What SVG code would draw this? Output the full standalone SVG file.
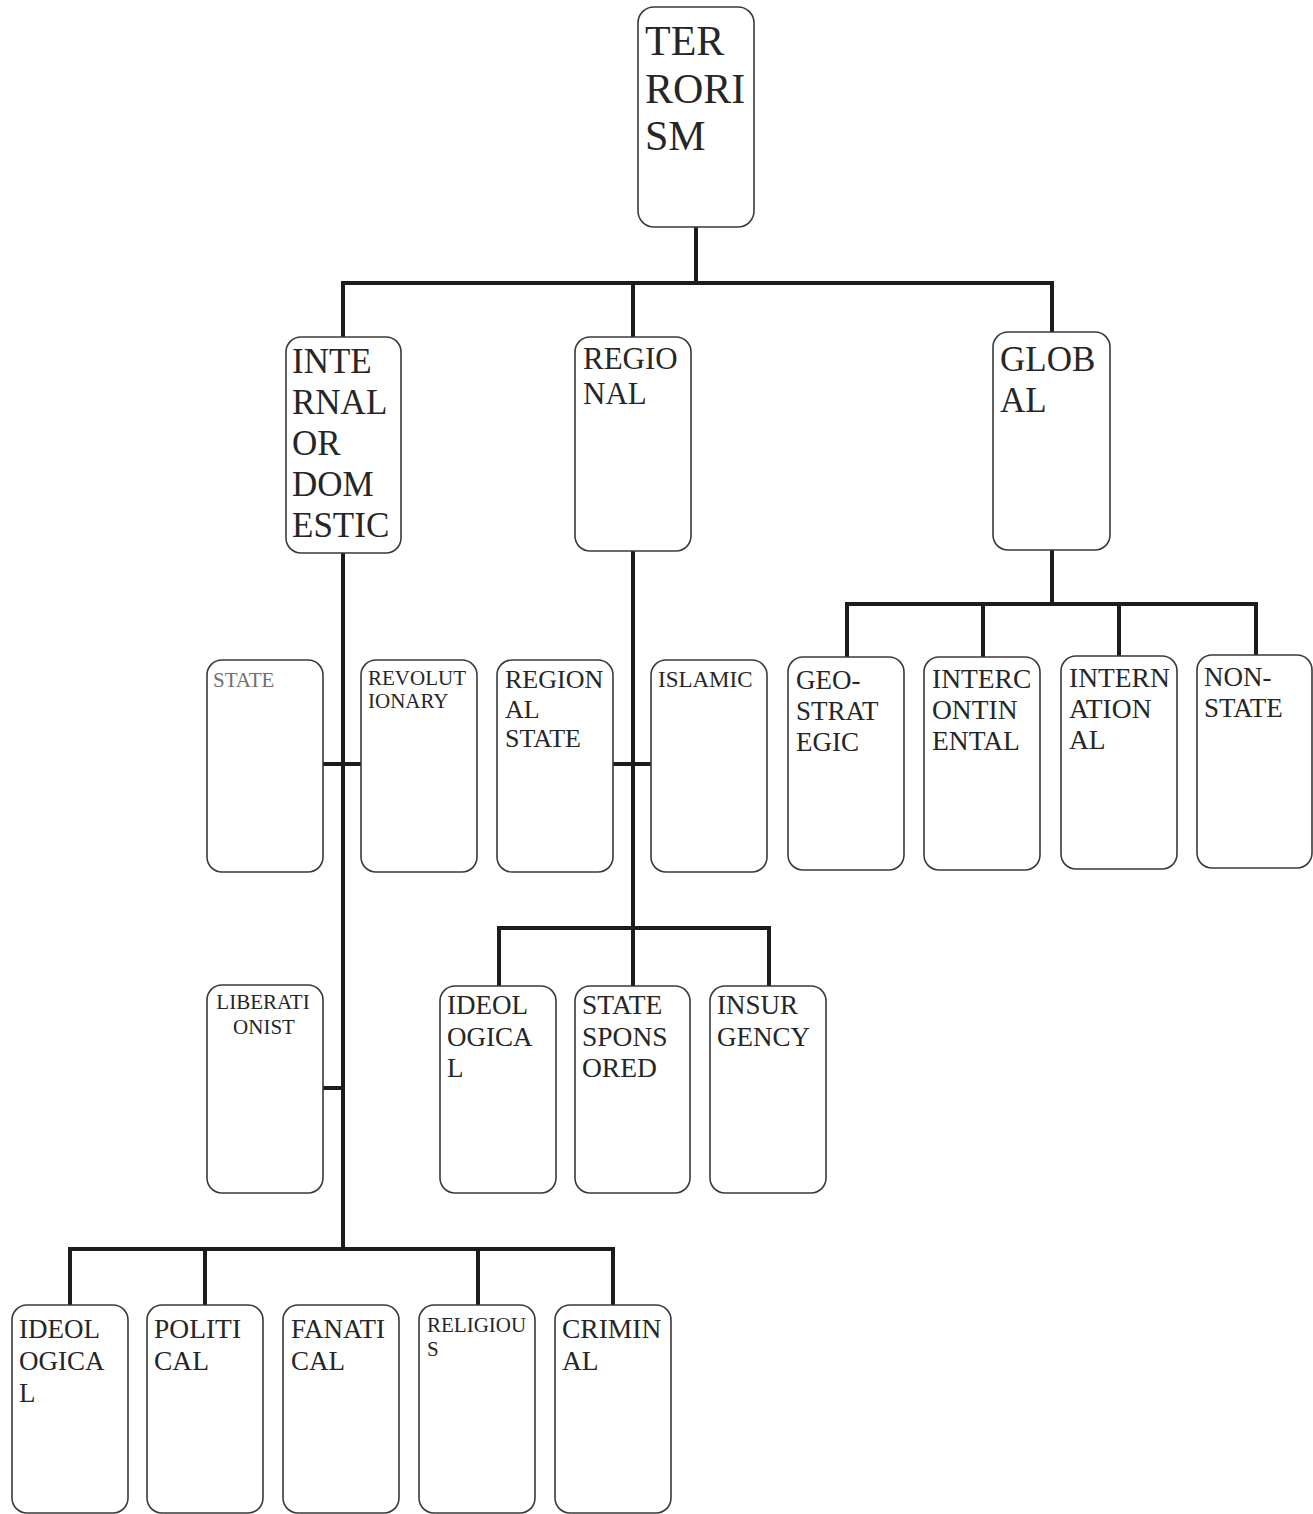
<svg xmlns="http://www.w3.org/2000/svg" width="1313" height="1514" viewBox="0 0 1313 1514">
<style>
.b{fill:#fff;stroke:#3a3a3a;stroke-width:1.6}
.t{font-family:'Liberation Serif','Times New Roman',Times,serif;fill:#262626}
.c{stroke:#1c1c1c;stroke-width:4;fill:none;stroke-linecap:square}
</style>
<rect width="1313" height="1514" fill="#fff"/>
<g id="connectors" class="c">
<path d="M696 227V283M343 283H1052M343 283V337M633 283V337M1052 283V332"/>
<path d="M343 553V1249M323 764H361M323 1088H343M70 1249H613M70 1249V1305M205 1249V1305M478 1249V1305M613 1249V1305"/>
<path d="M633 551V986M613 764H651M499 928H769M499 928V986M769 928V986"/>
<path d="M1052 550V604M847 604H1256M847 604V657M983 604V657M1119 604V656M1256 604V655"/>
</g>
<g font-family="Liberation Serif, Times New Roman, serif">
<g id="terrorism"><rect class="b" x="638" y="7" width="116" height="220" rx="16"/>
<text class="t" font-family="Liberation Serif, serif" font-size="42"><tspan x="645" y="55">TER</tspan><tspan x="645" y="103">RORI</tspan><tspan x="645" y="150">SM</tspan></text></g>
<g id="internal"><rect class="b" x="286" y="337" width="115" height="216" rx="15"/>
<text class="t" font-family="Liberation Serif, serif" font-size="35"><tspan x="292" y="373">INTE</tspan><tspan x="292" y="414">RNAL</tspan><tspan x="292" y="455">OR</tspan><tspan x="292" y="496">DOM</tspan><tspan x="292" y="537">ESTIC</tspan></text></g>
<g id="regional"><rect class="b" x="575" y="337" width="116" height="214" rx="15"/>
<text class="t" font-family="Liberation Serif, serif" font-size="31"><tspan x="583" y="369">REGIO</tspan><tspan x="583" y="404">NAL</tspan></text></g>
<g id="global"><rect class="b" x="993" y="332" width="117" height="218" rx="15"/>
<text class="t" font-family="Liberation Serif, serif" font-size="35"><tspan x="1000" y="371">GLOB</tspan><tspan x="1000" y="412">AL</tspan></text></g>
<g id="state"><rect class="b" x="207" y="660" width="116" height="212" rx="15"/>
<text class="t" font-family="Liberation Serif, serif" font-size="21" style="fill:#707070"><tspan x="213" y="687">STATE</tspan></text></g>
<g id="revolutionary"><rect class="b" x="361" y="660" width="116" height="212" rx="15"/>
<text class="t" font-family="Liberation Serif, serif" font-size="21"><tspan x="368" y="685">REVOLUT</tspan><tspan x="368" y="708">IONARY</tspan></text></g>
<g id="regional-state"><rect class="b" x="497" y="660" width="116" height="212" rx="15"/>
<text class="t" font-family="Liberation Serif, serif" font-size="26"><tspan x="505" y="688">REGION</tspan><tspan x="505" y="718">AL</tspan><tspan x="505" y="747">STATE</tspan></text></g>
<g id="islamic"><rect class="b" x="651" y="660" width="116" height="212" rx="15"/>
<text class="t" font-family="Liberation Serif, serif" font-size="23"><tspan x="658" y="687">ISLAMIC</tspan></text></g>
<g id="geostrategic"><rect class="b" x="788" y="657" width="116" height="213" rx="15"/>
<text class="t" font-family="Liberation Serif, serif" font-size="27"><tspan x="796" y="689">GEO-</tspan><tspan x="796" y="720">STRAT</tspan><tspan x="796" y="751">EGIC</tspan></text></g>
<g id="intercontinental"><rect class="b" x="924" y="657" width="116" height="213" rx="15"/>
<text class="t" font-family="Liberation Serif, serif" font-size="27.5"><tspan x="932" y="688">INTERC</tspan><tspan x="932" y="719">ONTIN</tspan><tspan x="932" y="750">ENTAL</tspan></text></g>
<g id="international"><rect class="b" x="1061" y="656" width="116" height="213" rx="15"/>
<text class="t" font-family="Liberation Serif, serif" font-size="27.5"><tspan x="1069" y="687">INTERN</tspan><tspan x="1069" y="718">ATION</tspan><tspan x="1069" y="749">AL</tspan></text></g>
<g id="non-state"><rect class="b" x="1197" y="655" width="115" height="213" rx="15"/>
<text class="t" font-family="Liberation Serif, serif" font-size="27"><tspan x="1204" y="686">NON-</tspan><tspan x="1204" y="717">STATE</tspan></text></g>
<g id="liberationist"><rect class="b" x="207" y="985" width="116" height="208" rx="15"/>
<text class="t" font-family="Liberation Serif, serif" font-size="21" text-anchor="middle"><tspan x="263" y="1009">LIBERATI</tspan><tspan x="264" y="1034">ONIST</tspan></text></g>
<g id="ideological-regional"><rect class="b" x="440" y="986" width="116" height="207" rx="15"/>
<text class="t" font-family="Liberation Serif, serif" font-size="27"><tspan x="447" y="1014">IDEOL</tspan><tspan x="447" y="1046">OGICA</tspan><tspan x="447" y="1077">L</tspan></text></g>
<g id="state-sponsored"><rect class="b" x="575" y="986" width="115" height="207" rx="15"/>
<text class="t" font-family="Liberation Serif, serif" font-size="27.5"><tspan x="582" y="1014">STATE</tspan><tspan x="582" y="1046">SPONS</tspan><tspan x="582" y="1077">ORED</tspan></text></g>
<g id="insurgency"><rect class="b" x="710" y="986" width="116" height="207" rx="15"/>
<text class="t" font-family="Liberation Serif, serif" font-size="27"><tspan x="717" y="1014">INSUR</tspan><tspan x="717" y="1046">GENCY</tspan></text></g>
<g id="ideological"><rect class="b" x="12" y="1305" width="116" height="208" rx="15"/>
<text class="t" font-family="Liberation Serif, serif" font-size="27"><tspan x="19" y="1338">IDEOL</tspan><tspan x="19" y="1370">OGICA</tspan><tspan x="19" y="1402">L</tspan></text></g>
<g id="political"><rect class="b" x="147" y="1305" width="116" height="208" rx="15"/>
<text class="t" font-family="Liberation Serif, serif" font-size="27.5"><tspan x="154" y="1338">POLITI</tspan><tspan x="154" y="1370">CAL</tspan></text></g>
<g id="fanatical"><rect class="b" x="283" y="1305" width="116" height="208" rx="15"/>
<text class="t" font-family="Liberation Serif, serif" font-size="27"><tspan x="291" y="1338">FANATI</tspan><tspan x="291" y="1370">CAL</tspan></text></g>
<g id="religious"><rect class="b" x="419" y="1305" width="116" height="208" rx="15"/>
<text class="t" font-family="Liberation Serif, serif" font-size="21"><tspan x="427" y="1332">RELIGIOU</tspan><tspan x="427" y="1356">S</tspan></text></g>
<g id="criminal"><rect class="b" x="555" y="1305" width="116" height="208" rx="15"/>
<text class="t" font-family="Liberation Serif, serif" font-size="27.5"><tspan x="562" y="1338">CRIMIN</tspan><tspan x="562" y="1370">AL</tspan></text></g>
</g>
</svg>
